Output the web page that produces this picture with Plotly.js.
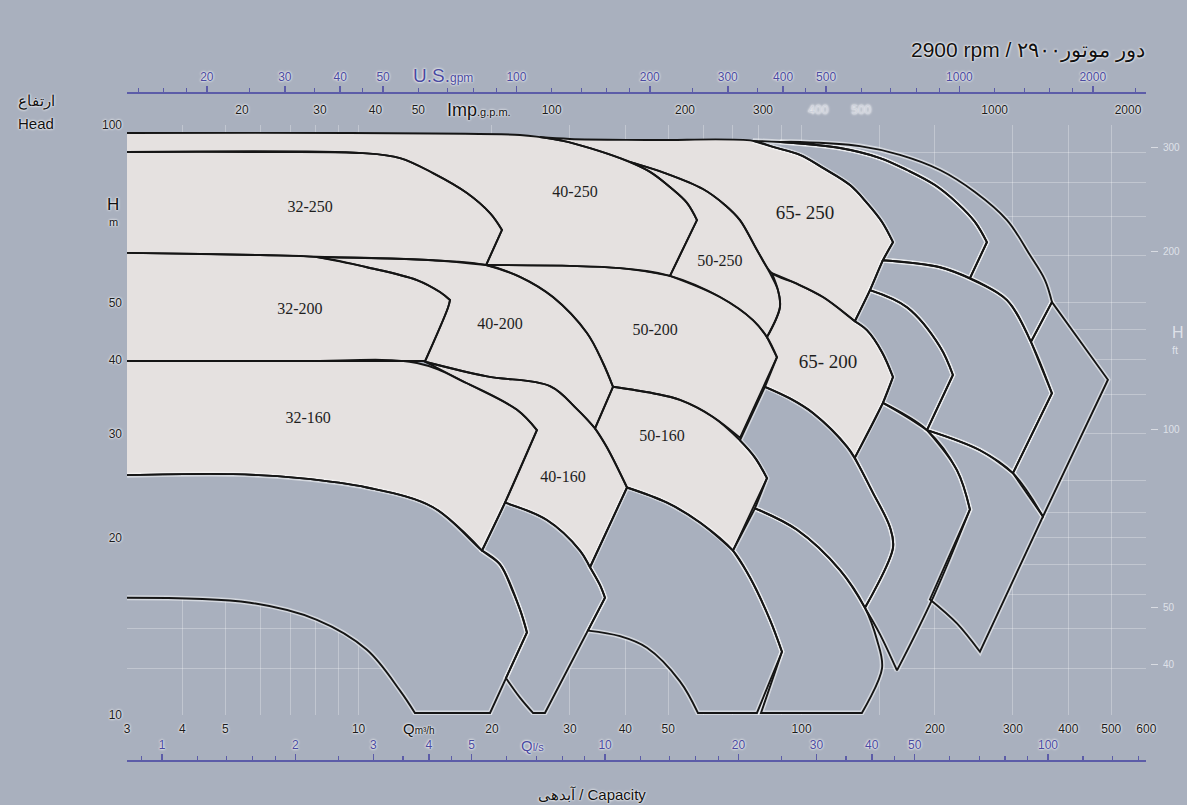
<!DOCTYPE html>
<html><head><meta charset="utf-8">
<script src="https://cdn.plot.ly/plotly-3.0.1.min.js"></script>
<style>html,body{margin:0;padding:0;background:#a9b0be;}#chart{width:1187px;height:805px;}</style>
</head><body><div id="chart"></div>
<script>
// ---- Axis tick values ----
const qTicks = [3,4,5,10,20,30,40,50,100,200,300,400,500,600];          // m3/h
const qGrid = [6,7,8,9,60,70,80,90,150];
const hTicks = [10,20,30,40,50,100];                                   // m
const hGrid = [12,14,16,18,22,25,35,45,60,70,80,90];
const ftTicks = [40,50,100,200,300];                                   // ft
const usTicks = [20,30,40,50,100,200,300,400,500,1000,2000];           // US gpm
const usMinor = [14,16,18,25,35,45,60,70,80,90,120,140,160,180,250,350,450,600,700,800,900,1200,1400,1600,1800,2500];
const impTicks = [20,30,40,50,100,200,300,400,500,1000,2000];          // Imp gpm
const lsTicks = [1,2,3,4,5,10,20,30,40,50,100];                        // l/s
const lsMinor = [0.9,1.2,1.4,1.6,1.8,2.5,3.5,4.5,6,7,8,9,12,14,16,18,25,35,45,60,70,80,90,120,140,160];

// ---- Pump regions (Q m3/h, H m), light fields ----
const q40_250 = [3,9.56,23.13,25.66,28.93,33.29,38.9,45.48,50.45,55.11,58.05,50.45,38.9,19.4,21.07,19.8,17.56,14.72,12.4,10.23,3];
const h40_250 = [96.9,96.9,96.2,95.4,94.0,91.4,87.9,83.3,78.5,73.8,69.0,55.5,57.2,57.9,66.4,70.9,76.7,82.9,87.9,89.6,90.0];
const q32_250 = [3,5.69,10.23,12.4,14.72,17.56,19.8,21.07,19.4,14.72,8.75,5.99,3];
const h32_250 = [90.0,90.0,89.6,87.9,82.9,76.7,70.9,66.4,57.9,59.0,59.7,60.2,60.7];
const q50_250 = [40.98,49.15,59.88,67.14,72.58,79.29,84.84,88.43,89.35,83.53,77.66,65.42,50.45,58.05,55.11,50.45,45.48,40.98];
const h50_250 = [86.6,82.9,77.9,73.2,69.0,61.4,56.1,52.5,49.1,43.7,46.7,51.1,55.5,69.0,73.8,78.5,83.3,86.6];
const q65_250 = [25.66,30,45.48,77.66,86.16,99.15,111.7,128.6,140.4,151.9,160.8,152.6,142.7,131.9,111.7,96.6,85.7,79.29,72.58,67.14,59.88,49.15,40.98,38.9,33.29,28.93,25.66];
const h65_250 = [95.4,94.7,94.3,94.0,91.8,89.0,84.6,79.1,73.8,68.5,63.3,59.0,52.5,46.5,51.1,54.0,56.1,61.4,69.0,73.2,77.9,82.9,86.6,87.9,91.4,94.0,95.4];
const q32_200 = [3,5.99,8.05,10.44,13.54,15.26,16.08,15.91,14.12,7.37,3];
const h32_200 = [60.7,60.2,59.7,57.4,54.6,52.1,50.5,49.0,39.8,39.8,39.8];
const q40_200 = [8.05,8.75,14.72,19.4,23.13,27.46,32.77,35.62,37.52,34.17,31.11,27.04,19.49,14.12,15.91,16.08,15.26,13.54,10.44,8.05];
const h40_200 = [59.7,59.7,59.0,57.9,55.3,51.1,44.4,39.5,36.0,30.6,33.0,36.1,37.5,39.7,49.0,50.5,52.1,54.6,57.4,59.7];
const q50_200 = [19.4,38.9,50.45,65.42,77.66,83.53,87.98,72.58,63.09,53.14,46.19,37.52,35.62,32.77,27.46,23.13,19.4];
const h50_200 = [57.9,57.2,55.5,51.1,46.7,43.7,40.4,29.5,32.0,34.2,35.1,36.0,39.5,44.4,51.1,55.3,57.9];
const q65_200 = [85.7,96.6,111.7,131.9,140.4,151.9,160.8,152.6,131.9,126.6,106.1,94.12,82.66,87.98,83.53,89.35,88.43,85.7];
const h65_200 = [56.1,54.0,51.1,46.5,44.9,41.2,37.4,33.8,27.3,28.5,32.5,34.4,36.0,40.4,43.7,49.1,52.5,56.1];
const q32_160 = [3,7.37,13.54,17.56,22.78,25.26,21.4,18.99,14.72,10.44,7.37,5.21,3];
const h32_160 = [39.8,39.8,39.5,36.5,32.9,30.4,22.9,19.0,22.5,24.3,25.2,25.6,25.5];
const q40_160 = [14.12,19.49,27.04,31.11,34.17,36.37,40.35,33.29,31.6,26.61,21.4,25.26,22.78,17.56,14.12];
const h40_160 = [39.7,37.5,36.1,33.0,30.6,28.4,24.3,17.8,19.0,21.4,22.9,30.4,32.9,36.5,39.7];
const q50_160 = [37.52,46.19,53.14,63.09,72.58,78.47,83.53,70.0,58.97,49.68,40.35,36.37,34.17,37.52];
const h50_160 = [36.0,35.1,34.2,32.0,29.2,27.3,25.2,19.0,21.2,22.9,24.3,28.4,30.6,36.0];

// ---- Unlabelled (blue-grey) fields ----
const qB32_125 = [3,5.21,7.37,10.44,14.72,18.99,20.85,22.2,23.13,23.99,19.8,13.4,12.4,10.44,8.05,5.69,3];
const hB32_125 = [25.5,25.6,25.2,24.3,22.5,19.0,18.0,16.3,15.1,13.8,10.08,10.08,11.0,12.9,14.5,15.5,15.8];
const qB40_125 = [21.4,26.61,31.6,33.29,35.07,35.99,26.34,24.75,23.13,21.5,23.99,23.13,20.85,18.99,21.4];
const hB40_125 = [22.9,21.4,19.0,17.8,16.6,15.8,10.08,10.08,10.7,11.55,13.8,15.1,18.0,19.0,22.9];
const qB50_125 = [40.35,49.68,58.97,70.0,76.46,84.84,90.3,79.29,58.34,53.14,44.77,38.9,32.94,35.99,35.07,33.29,40.35];
const hB50_125 = [24.3,22.9,21.2,19.0,17.1,14.5,12.8,10.08,10.08,11.4,13.0,13.6,13.9,15.8,16.6,17.8,24.3];
const qB65_125 = [78.47,97.61,122.1,139.0,148.0,151.9,136.8,80.97,90.3,84.84,76.46,70.0,78.47];
const hB65_125 = [22.4,20.6,17.6,15.2,13.4,12.0,10.08,10.08,12.8,14.5,17.1,19.0,22.4];
const qB65_160 = [82.66,94.12,106.1,126.6,144.9,158.3,160.8,139.0,122.1,97.61,78.47,83.53,78.47,72.58,82.66];
const hB65_160 = [36.0,34.4,32.5,28.5,23.8,20.8,19.2,15.2,17.6,20.6,22.4,25.2,27.3,29.2,36.0];
const qB80_160 = [152.6,191.9,224.2,239.9,197.9,164.2,150.3,139.0,160.8,158.3,144.9,131.9,152.6];
const hB80_160 = [33.8,30.4,26.0,22.3,15.8,11.9,13.7,15.2,19.2,20.8,23.8,27.3,33.8];
const qB100_160 = [191.9,252.7,300,350.6,252.7,224.2,194.9,239.9,224.2,191.9];
const hB100_160 = [30.4,28.1,25.7,21.7,12.8,14.3,15.7,22.3,26.0,30.4];
const qB80_200 = [142.7,172.9,205.3,219.6,191.9,172.9,152.6,160.8,151.9,140.4,131.9,142.7];
const hB80_200 = [52.5,49.1,42.1,37.7,30.4,32.0,33.8,37.4,41.2,44.9,46.5,52.5];
const qB100_200 = [152.6,205.3,243.7,290.8,329.4,367.4,300,252.7,191.9,219.6,205.3,172.9,142.7,152.6];
const hB100_200 = [59.0,57.4,54.6,50.5,42.9,35.1,25.7,28.1,30.4,37.7,42.1,49.1,52.5,59.0];
const qB80_250 = [89.35,122.1,150.3,172.9,200,224.2,246.2,262.0,239.9,205.3,152.6,160.8,151.9,140.4,128.6,111.7,99.15,86.16,77.66,89.35];
const hB80_250 = [93.6,91.4,87.9,83.9,79.1,73.8,68.5,63.3,55.0,57.4,59.0,63.3,68.5,73.8,79.1,84.6,89.0,91.8,94.0,93.6];
const qB100_250 = [99.15,135.4,166.7,205.3,246.2,290.8,327.7,354.3,367.4,329.4,290.8,239.9,262.0,246.2,224.2,200,172.9,150.3,122.1,89.35,99.15];
const hB100_250 = [93.6,92.1,89.0,83.9,77.0,69.0,60.2,54.6,50.1,42.9,50.5,55.0,63.3,68.5,73.8,79.1,83.9,87.9,91.4,93.6,93.6];
const qBchev = [367.4,491.5,350.6,300,367.4,329.4,367.4];
const hBchev = [50.1,37.0,21.7,25.7,35.1,42.9,50.1];

// ---- Field labels ----
const labelText = ['32-250','40-250','50-250','65- 250','32-200','40-200','50-200','65- 200','32-160','40-160','50-160'];
const labelQ = [7.77,30.79,65.42,101.8,7.37,20.85,46.7,114.7,7.69,28.93,48.4];
const labelH = [72.3,76.7,58.6,70.6,48.6,45.8,44.7,39.5,31.7,25.2,29.6];
const labelSize = [16,16,16,19,16,16,16,19,16,16,16];

// ---- Styling ----
const BG = '#a9b0be', LIGHT = '#e5e1e0', INK = '#151515', BLUE_T = '#4a4aa0', AXL = '#5c5ca8';
const GRID = 'rgba(255,255,255,0.28)';
const FONT = 'Liberation Sans, Arial, sans-serif';
const GLOW = '0 0 2px #ffffff, 0 0 3px #ffffff';
const W = 1187, Hh = 805;
const CORNER = 0.6;   // turning angle (rad) above which a vertex is kept sharp

// keep sharp corners sharp when Plotly draws the outline as a spline
function sharpen(q, h){
  const P = q.map((v,i) => [Math.log10(v)*443, -Math.log10(h[i])*590]);
  const n = q.length, oq = [], oh = [];
  for(let i=0;i<n;i++){
    const prev = P[i===0 ? n-2 : i-1], next = P[i===n-1 ? 1 : i+1], cur = P[i];
    const a1 = Math.atan2(cur[1]-prev[1], cur[0]-prev[0]);
    const a2 = Math.atan2(next[1]-cur[1], next[0]-cur[0]);
    let d = Math.abs(a2-a1); if(d > Math.PI) d = 2*Math.PI - d;
    oq.push(q[i]); oh.push(h[i]);
    if(d > CORNER){ oq.push(q[i]); oh.push(h[i]); }
  }
  return [oq, oh];
}

const bluePolys = [[qB32_125,hB32_125],[qB40_125,hB40_125],[qB50_125,hB50_125],[qB65_125,hB65_125],
  [qB65_160,hB65_160],[qB80_160,hB80_160],[qB100_160,hB100_160],[qB80_200,hB80_200],[qB100_200,hB100_200],
  [qB80_250,hB80_250],[qB100_250,hB100_250],[qBchev,hBchev]].map(p => sharpen(p[0],p[1]));
const lightPolys = [[q40_250,h40_250],[q32_250,h32_250],[q50_250,h50_250],[q65_250,h65_250],
  [q32_200,h32_200],[q40_200,h40_200],[q50_200,h50_200],[q65_200,h65_200],
  [q32_160,h32_160],[q40_160,h40_160],[q50_160,h50_160]].map(p => sharpen(p[0],p[1]));

const traces = [];
traces.push({x:[20,2000],y:[20,50],xaxis:'x2',yaxis:'y',mode:'markers',marker:{opacity:0},hoverinfo:'skip'});
traces.push({x:[20,2000],y:[20,50],xaxis:'x3',yaxis:'y',mode:'markers',marker:{opacity:0},hoverinfo:'skip'});
traces.push({x:[1,100],y:[20,50],xaxis:'x4',yaxis:'y',mode:'markers',marker:{opacity:0},hoverinfo:'skip'});
traces.push({x:[10,100],y:[50,200],xaxis:'x',yaxis:'y2',mode:'markers',marker:{opacity:0},hoverinfo:'skip'});

const SPL = {shape:'spline', smoothing:1, simplify:false};
function fillTrace(p, col){ return {type:'scatter',mode:'lines',x:p[0],y:p[1],fill:'toself',fillcolor:col,
  line:Object.assign({width:0,color:col},SPL),hoverinfo:'skip'}; }
function lineTrace(p, col, w, op){ return {type:'scatter',mode:'lines',x:p[0],y:p[1],
  line:Object.assign({width:w,color:col},SPL),opacity:op,hoverinfo:'skip'}; }
bluePolys.forEach(p => traces.push(fillTrace(p, BG)));
lightPolys.forEach(p => traces.push(fillTrace(p, LIGHT)));
bluePolys.forEach(p => traces.push(lineTrace(p, '#ffffff', 5, 0.5)));
bluePolys.concat(lightPolys).forEach(p => traces.push(lineTrace(p, INK, 1.9, 1)));
traces.push({type:'scatter',mode:'text',x:labelQ,y:labelH,text:labelText,textposition:'middle center',
  textfont:{family:'Liberation Serif, Times New Roman, serif',size:labelSize,color:'#1e1e1e'},hoverinfo:'skip'});

function ann(x,y,text,size,color,opts){
  return Object.assign({xref:'paper',yref:'paper',x:x/W,y:1-y/Hh,text:text,showarrow:false,xanchor:'center',yanchor:'middle',
    font:{family:FONT,size:size,color:color,shadow:GLOW}}, opts||{});
}
const fade = 'rgba(236,239,245,0.8)';
const annotations = [
  ann(1147,50,'2900 rpm / دور موتور۲۹۰۰',21,'#111111',{xanchor:'right'}),
  ann(36,101,'ارتفاع',15,'#111111'),
  ann(36,124,'Head',15,'#111111'),
  ann(113,204,'H',17,'#111111'),
  ann(113,222,'m',11,'#111111'),
  ann(411,76,'U.S.<span style="font-size:12px">gpm</span>',19,BLUE_T,{xanchor:'left'}),
  ann(445,110,'Imp<span style="font-size:11px">.g.p.m.</span>',18,'#111111',{xanchor:'left'}),
  ann(401,728,'Q<span style="font-size:10px">m³/h</span>',15,'#111111',{xanchor:'left'}),
  ann(519,745,'Q<span style="font-size:11px">l/s</span>',15,BLUE_T,{xanchor:'left'}),
  ann(592,794,'آبدهی / Capacity',15,'#111111'),
  ann(1170,333,'H',16,fade,{xanchor:'left',font:{family:FONT,size:16,color:fade}}),
  ann(1170,350,'ft',11,fade,{xanchor:'left',font:{family:FONT,size:11,color:fade}})
];

const faint = s => '<span style="color:#cfd3dd">'+s+'</span>';
const layout = {
  width:W, height:Hh, margin:{l:0,r:0,t:0,b:0}, paper_bgcolor:BG, plot_bgcolor:BG, showlegend:false,
  font:{family:FONT},
  xaxis:{type:'log',range:[Math.log10(3),Math.log10(600)],domain:[127/W,1146.3/W],anchor:'y',
    tickmode:'array',tickvals:qTicks,ticktext:qTicks.map(String),ticks:'',showline:false,zeroline:false,
    showgrid:true,gridcolor:GRID,minor:{tickmode:'array',tickvals:qGrid,showgrid:true,gridcolor:GRID,ticks:''},
    tickfont:{family:FONT,size:12,color:'#1c1c1c',shadow:GLOW},ticklabelstandoff:5,fixedrange:true},
  yaxis:{type:'log',range:[1,2],domain:[90/Hh,680/Hh],anchor:'x',
    tickmode:'array',tickvals:hTicks,ticktext:hTicks.map(String),ticks:'',showline:false,zeroline:false,
    showgrid:true,gridcolor:GRID,minor:{tickmode:'array',tickvals:hGrid,showgrid:true,gridcolor:GRID,ticks:''},
    tickfont:{family:FONT,size:12,color:'#1c1c1c',shadow:GLOW},ticklabelstandoff:4,fixedrange:true},
  yaxis2:{type:'log',overlaying:'y',anchor:'free',position:1150/W,side:'right',
    range:[Math.log10(32.8084),Math.log10(328.084)],tickmode:'array',tickvals:ftTicks,ticktext:ftTicks.map(String),
    ticks:'outside',ticklen:7,tickcolor:'rgba(255,255,255,0.55)',showgrid:false,showline:false,zeroline:false,
    tickfont:{family:FONT,size:10,color:fade},ticklabelstandoff:3,fixedrange:true},
  xaxis2:{type:'log',overlaying:'x',anchor:'free',position:1-92.5/Hh,side:'top',
    range:[Math.log10(3*4.40287),Math.log10(600*4.40287)],tickmode:'array',tickvals:usTicks,ticktext:usTicks.map(String),
    ticks:'outside',ticklen:6,tickwidth:1.5,tickcolor:AXL,showline:true,linecolor:AXL,linewidth:2,showgrid:false,zeroline:false,
    minor:{tickmode:'array',tickvals:usMinor,ticks:'outside',ticklen:4,tickwidth:1.2,tickcolor:AXL,showgrid:false},
    tickfont:{family:FONT,size:12,color:BLUE_T,shadow:GLOW},fixedrange:true},
  xaxis3:{type:'log',overlaying:'x',anchor:'free',position:1-101/Hh,side:'bottom',
    range:[Math.log10(3*3.66615),Math.log10(600*3.66615)],tickmode:'array',tickvals:impTicks,
    ticktext:impTicks.map(v => (v===400||v===500) ? faint(String(v)) : String(v)),
    ticks:'',showline:false,showgrid:false,zeroline:false,
    tickfont:{family:FONT,size:12,color:'#1c1c1c',shadow:GLOW},fixedrange:true},
  xaxis4:{type:'log',overlaying:'x',anchor:'free',position:1-761/Hh,side:'top',
    range:[Math.log10(3/3.6),Math.log10(600/3.6)],tickmode:'array',tickvals:lsTicks,ticktext:lsTicks.map(String),
    ticks:'outside',ticklen:6,tickwidth:1.5,tickcolor:AXL,showline:true,linecolor:AXL,linewidth:2,showgrid:false,zeroline:false,
    minor:{tickmode:'array',tickvals:lsMinor,ticks:'outside',ticklen:4,tickwidth:1.2,tickcolor:AXL,showgrid:false},
    tickfont:{family:FONT,size:12,color:BLUE_T,shadow:GLOW},fixedrange:true},
  annotations:annotations
};
Plotly.newPlot('chart', traces, layout, {staticPlot:true, displayModeBar:false});
</script>
</body></html>
